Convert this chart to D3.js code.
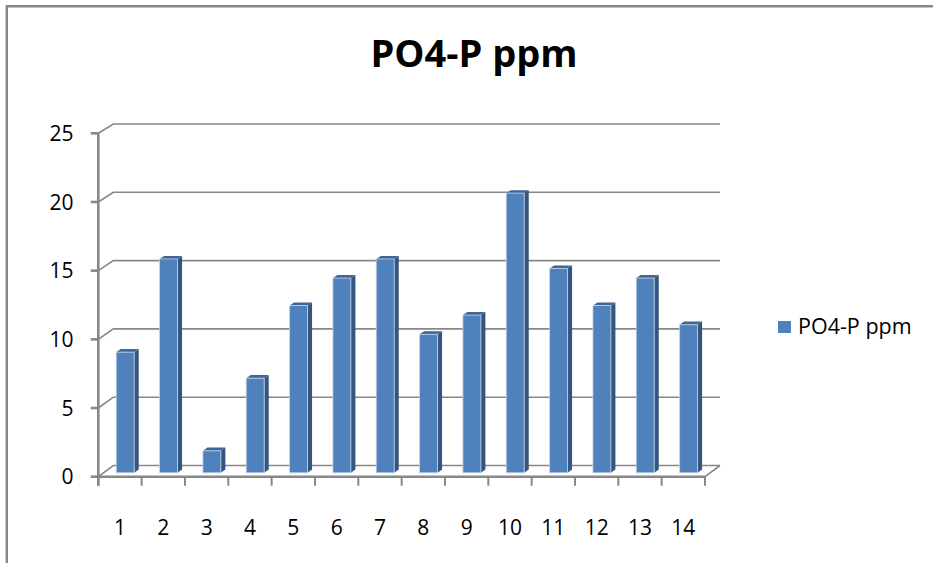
<!DOCTYPE html>
<html>
<head>
<meta charset="utf-8">
<script src="https://cdn.jsdelivr.net/npm/d3@7"></script>
<style>
  html, body { margin: 0; padding: 0; background: #fff; }
  svg { display: block; }
  text { font-family: "Open Sans", "Noto Sans", sans-serif; fill: #000; }
</style>
</head>
<body>
<svg id="chart" width="933" height="563"></svg>
<script>
const title = "PO4-P ppm";
const seriesName = "PO4-P ppm";
const categories = ["1","2","3","4","5","6","7","8","9","10","11","12","13","14"];
const values = [8.8, 15.6, 1.6, 6.9, 12.2, 14.2, 15.6, 10.1, 11.5, 20.4, 14.9, 12.2, 14.2, 10.8];
const yTicks = [0, 5, 10, 15, 20, 25];

const svg = d3.select("#chart");
const W = 933, H = 563;
svg.append("rect").attr("width", W).attr("height", H).attr("fill", "#fff");

// frame
svg.append("path").attr("d", `M6.8,${H} V6.2 H${W}`)
  .attr("fill", "none").attr("stroke", "#878787").attr("stroke-width", 2.4);

// 3D oblique geometry
const DX = 15; // depth x offset
const x = d3.scaleBand().domain(categories).range([98.3, 705]).paddingInner(0).paddingOuter(0);
const yFront = d3.scaleLinear().domain([0, 25]).range([476.7, 133.3]);
const yBack = d3.scaleLinear().domain([0, 25]).range([465.5, 124]);
function P(px, v, d) { return [px + DX * d, yFront(v) * (1 - d) + yBack(v) * d]; }
const xL = x.range()[0], xR = x.range()[1];
const gridColor = "#878787";

const g = svg.append("g");
// back wall gridlines + side wall diagonals
yTicks.forEach(t => {
  const a = P(xL, t, 0), b = P(xL, t, 1), c = P(xR, t, 1);
  g.append("path").attr("d", `M${a[0]},${a[1]} L${b[0]},${b[1]} L${c[0]},${c[1]}`)
    .attr("fill", "none").attr("stroke", gridColor).attr("stroke-width", 1.6);
});
// floor right edge
{
  const a = P(xR, 0, 1), b = P(xR, 0, 0);
  g.append("line").attr("x1", a[0]).attr("y1", a[1]).attr("x2", b[0]).attr("y2", b[1])
    .attr("stroke", gridColor).attr("stroke-width", 1.6);
}

// bars
const bw = x.bandwidth();
const halfW = bw * 0.415 / 2;
const d0 = 0.35, d1 = 0.65;
const bars = g.append("g");
values.forEach((v, i) => {
  const cx = x(categories[i]) + bw / 2;
  const l = cx - halfW, r = cx + halfW;
  const fBL = P(l, 0, d0), fBR = P(r, 0, d0), fTL = P(l, v, d0), fTR = P(r, v, d0);
  const bBR = P(r, 0, d1), bTR = P(r, v, d1), bTL = P(l, v, d1);
  // side face
  bars.append("path").attr("d", `M${fBR} L${fTR} L${bTR} L${bBR} Z`).attr("fill", "#34557F");
  // top face
  bars.append("path").attr("d", `M${fTL} L${fTR} L${bTR} L${bTL} Z`).attr("fill", "#3E6698");
  // front face
  bars.append("path").attr("d", `M${fBL} L${fTL} L${fTR} L${fBR} Z`).attr("fill", "#4F81BD")
    .attr("stroke", "#c9d6ea").attr("stroke-width", 0.8);
});

// front axes
const axisColor = "#878787";
const ax = svg.append("g");
ax.append("line").attr("x1", xL).attr("x2", xR).attr("y1", yFront(0)).attr("y2", yFront(0))
  .attr("stroke", axisColor).attr("stroke-width", 2.6);
ax.append("line").attr("x1", xL).attr("x2", xL).attr("y1", yFront(25)).attr("y2", yFront(0) + 9)
  .attr("stroke", axisColor).attr("stroke-width", 2.6);
// category tick marks at band boundaries
const bounds = categories.map(c => x(c)).concat([xR]);
bounds.forEach(bx => {
  ax.append("line").attr("x1", bx).attr("x2", bx).attr("y1", yFront(0)).attr("y2", yFront(0) + 9)
    .attr("stroke", axisColor).attr("stroke-width", 2);
});
// value ticks
yTicks.forEach(t => {
  ax.append("line").attr("x1", xL - 7.5).attr("x2", xL).attr("y1", yFront(t)).attr("y2", yFront(t))
    .attr("stroke", axisColor).attr("stroke-width", 2.6);
  ax.append("text").attr("x", 73.5).attr("y", yFront(t)).attr("dy", "0.36em")
    .attr("text-anchor", "end").attr("font-size", 21).text(t);
});
// category labels
categories.forEach(c => {
  ax.append("text").attr("x", x(c) + bw / 2).attr("y", 535)
    .attr("text-anchor", "middle").attr("font-size", 21).text(c);
});

// title
svg.append("text").attr("x", 474).attr("y", 67).attr("text-anchor", "middle")
  .attr("font-size", 38).attr("font-weight", "bold").text(title);

// legend
const lg = svg.append("g");
lg.append("rect").attr("x", 778).attr("y", 321).attr("width", 13).attr("height", 12).attr("fill", "#4F81BD");
lg.append("text").attr("x", 798).attr("y", 333.5).attr("font-size", 21.5).text(seriesName);
</script>
</body>
</html>
